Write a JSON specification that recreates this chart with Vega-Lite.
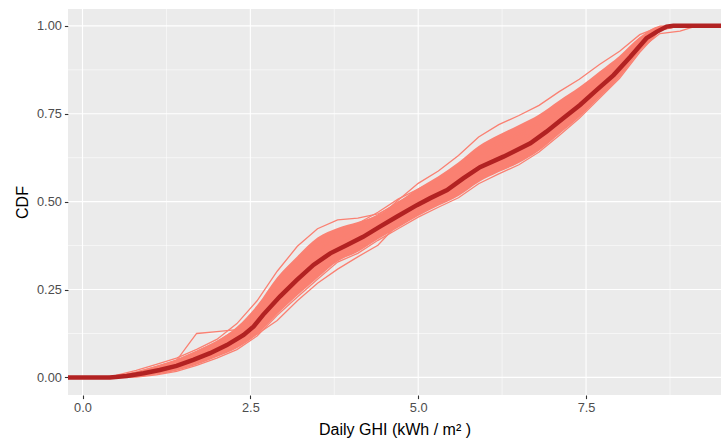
{
"$schema":"https://vega.github.io/schema/vega-lite/v6.json",
"width":653,"height":386,
"autosize":{"type":"none"},
"padding":{"left":68,"top":9,"right":0,"bottom":46},
"background":"white",
"config":{"view":{"fill":"#EBEBEB","stroke":null},"font":"Liberation Sans"},
"datasets":{
"gx":[{"v":0,"w":1.1},{"v":2.5,"w":1.1},{"v":5,"w":1.1},{"v":7.5,"w":1.1},{"v":1.25,"w":0.55},{"v":3.75,"w":0.55},{"v":6.25,"w":0.55},{"v":8.75,"w":0.55}],
"gy":[{"v":0,"w":1.1},{"v":0.25,"w":1.1},{"v":0.5,"w":1.1},{"v":0.75,"w":1.1},{"v":1,"w":1.1},{"v":0.125,"w":0.55},{"v":0.375,"w":0.55},{"v":0.625,"w":0.55},{"v":0.875,"w":0.55}],
"band":[{"x":0.3,"lo":0,"hi":0},{"x":0.5,"lo":0,"hi":0.005},{"x":0.8,"lo":0.001,"hi":0.017},{"x":1.1,"lo":0.008,"hi":0.033},{"x":1.4,"lo":0.019,"hi":0.051},{"x":1.7,"lo":0.036,"hi":0.076},{"x":2.0,"lo":0.058,"hi":0.104},{"x":2.3,"lo":0.083,"hi":0.144},{"x":2.6,"lo":0.122,"hi":0.205},{"x":2.9,"lo":0.18,"hi":0.285},{"x":3.2,"lo":0.233,"hi":0.345},{"x":3.5,"lo":0.283,"hi":0.398},{"x":3.8,"lo":0.33,"hi":0.425},{"x":4.1,"lo":0.357,"hi":0.442},{"x":4.4,"lo":0.393,"hi":0.462},{"x":4.7,"lo":0.426,"hi":0.499},{"x":5.0,"lo":0.459,"hi":0.538},{"x":5.3,"lo":0.488,"hi":0.572},{"x":5.6,"lo":0.516,"hi":0.612},{"x":5.9,"lo":0.555,"hi":0.658},{"x":6.2,"lo":0.584,"hi":0.69},{"x":6.5,"lo":0.61,"hi":0.718},{"x":6.8,"lo":0.645,"hi":0.748},{"x":7.1,"lo":0.692,"hi":0.788},{"x":7.4,"lo":0.74,"hi":0.826},{"x":7.7,"lo":0.796,"hi":0.87},{"x":8.0,"lo":0.853,"hi":0.915},{"x":8.3,"lo":0.927,"hi":0.968},{"x":8.6,"lo":0.987,"hi":0.999},{"x":8.9,"lo":1,"hi":1}],
"mean":[{"x":-0.3,"y":0},{"x":0.41,"y":0},{"x":0.66,"y":0.004},{"x":0.91,"y":0.012},{"x":1.15,"y":0.021},{"x":1.4,"y":0.033},{"x":1.65,"y":0.05},{"x":1.9,"y":0.069},{"x":2.15,"y":0.092},{"x":2.4,"y":0.121},{"x":2.55,"y":0.145},{"x":2.69,"y":0.178},{"x":2.94,"y":0.23},{"x":3.19,"y":0.277},{"x":3.44,"y":0.32},{"x":3.69,"y":0.353},{"x":3.94,"y":0.377},{"x":4.18,"y":0.4},{"x":4.43,"y":0.429},{"x":4.68,"y":0.457},{"x":4.98,"y":0.49},{"x":5.18,"y":0.51},{"x":5.43,"y":0.533},{"x":5.67,"y":0.566},{"x":5.92,"y":0.598},{"x":6.27,"y":0.628},{"x":6.67,"y":0.666},{"x":6.91,"y":0.699},{"x":7.16,"y":0.737},{"x":7.41,"y":0.775},{"x":7.66,"y":0.818},{"x":7.91,"y":0.86},{"x":8.16,"y":0.912},{"x":8.4,"y":0.965},{"x":8.55,"y":0.983},{"x":8.7,"y":0.998},{"x":8.8,"y":1},{"x":9.8,"y":1}],
"ens":[
{"s":1,"x":0.3,"y":0},{"s":1,"x":0.5,"y":0.004},{"s":1,"x":0.8,"y":0.015},{"s":1,"x":1.1,"y":0.031},{"s":1,"x":1.4,"y":0.049},{"s":1,"x":1.7,"y":0.074},{"s":1,"x":2.0,"y":0.101},{"s":1,"x":2.3,"y":0.137},{"s":1,"x":2.6,"y":0.194},{"s":1,"x":2.9,"y":0.272},{"s":1,"x":3.2,"y":0.322},{"s":1,"x":3.5,"y":0.378},{"s":1,"x":3.8,"y":0.408},{"s":1,"x":4.1,"y":0.434},{"s":1,"x":4.4,"y":0.462},{"s":1,"x":4.7,"y":0.499},{"s":1,"x":5.0,"y":0.528},{"s":1,"x":5.3,"y":0.56},{"s":1,"x":5.6,"y":0.597},{"s":1,"x":5.9,"y":0.637},{"s":1,"x":6.2,"y":0.664},{"s":1,"x":6.5,"y":0.695},{"s":1,"x":6.8,"y":0.727},{"s":1,"x":7.1,"y":0.769},{"s":1,"x":7.4,"y":0.809},{"s":1,"x":7.7,"y":0.857},{"s":1,"x":8.0,"y":0.905},{"s":1,"x":8.3,"y":0.965},{"s":1,"x":8.6,"y":0.999},{"s":1,"x":8.9,"y":1},
{"s":2,"x":0.3,"y":0},{"s":2,"x":0.5,"y":0},{"s":2,"x":0.8,"y":0.001},{"s":2,"x":1.1,"y":0.007},{"s":2,"x":1.4,"y":0.017},{"s":2,"x":1.7,"y":0.034},{"s":2,"x":2.0,"y":0.055},{"s":2,"x":2.3,"y":0.079},{"s":2,"x":2.6,"y":0.118},{"s":2,"x":2.9,"y":0.177},{"s":2,"x":3.2,"y":0.229},{"s":2,"x":3.5,"y":0.279},{"s":2,"x":3.8,"y":0.328},{"s":2,"x":4.1,"y":0.353},{"s":2,"x":4.4,"y":0.39},{"s":2,"x":4.7,"y":0.423},{"s":2,"x":5.0,"y":0.456},{"s":2,"x":5.3,"y":0.484},{"s":2,"x":5.6,"y":0.511},{"s":2,"x":5.9,"y":0.551},{"s":2,"x":6.2,"y":0.579},{"s":2,"x":6.5,"y":0.605},{"s":2,"x":6.8,"y":0.641},{"s":2,"x":7.1,"y":0.688},{"s":2,"x":7.4,"y":0.737},{"s":2,"x":7.7,"y":0.794},{"s":2,"x":8.0,"y":0.851},{"s":2,"x":8.3,"y":0.925},{"s":2,"x":8.6,"y":0.987},{"s":2,"x":8.9,"y":1},
{"s":3,"x":0.3,"y":0},{"s":3,"x":0.5,"y":0.003},{"s":3,"x":0.8,"y":0.012},{"s":3,"x":1.1,"y":0.025},{"s":3,"x":1.4,"y":0.041},{"s":3,"x":1.7,"y":0.063},{"s":3,"x":2.0,"y":0.087},{"s":3,"x":2.3,"y":0.118},{"s":3,"x":2.6,"y":0.169},{"s":3,"x":2.9,"y":0.234},{"s":3,"x":3.2,"y":0.306},{"s":3,"x":3.5,"y":0.336},{"s":3,"x":3.8,"y":0.368},{"s":3,"x":4.1,"y":0.396},{"s":3,"x":4.4,"y":0.427},{"s":3,"x":4.7,"y":0.458},{"s":3,"x":5.0,"y":0.49},{"s":3,"x":5.3,"y":0.518},{"s":3,"x":5.6,"y":0.55},{"s":3,"x":5.9,"y":0.585},{"s":3,"x":6.2,"y":0.613},{"s":3,"x":6.5,"y":0.62},{"s":3,"x":6.8,"y":0.669},{"s":3,"x":7.1,"y":0.712},{"s":3,"x":7.4,"y":0.757},{"s":3,"x":7.7,"y":0.81},{"s":3,"x":8.0,"y":0.864},{"s":3,"x":8.3,"y":0.934},{"s":3,"x":8.6,"y":0.989},{"s":3,"x":8.9,"y":1},
{"s":4,"x":0.3,"y":0},{"s":4,"x":0.5,"y":0},{"s":4,"x":0.8,"y":0.004},{"s":4,"x":1.1,"y":0.013},{"s":4,"x":1.4,"y":0.025},{"s":4,"x":1.7,"y":0.046},{"s":4,"x":2.0,"y":0.069},{"s":4,"x":2.3,"y":0.099},{"s":4,"x":2.6,"y":0.148},{"s":4,"x":2.9,"y":0.192},{"s":4,"x":3.2,"y":0.27},{"s":4,"x":3.5,"y":0.322},{"s":4,"x":3.8,"y":0.36},{"s":4,"x":4.1,"y":0.392},{"s":4,"x":4.4,"y":0.427},{"s":4,"x":4.7,"y":0.462},{"s":4,"x":5.0,"y":0.512},{"s":4,"x":5.3,"y":0.529},{"s":4,"x":5.6,"y":0.565},{"s":4,"x":5.9,"y":0.606},{"s":4,"x":6.2,"y":0.639},{"s":4,"x":6.5,"y":0.667},{"s":4,"x":6.8,"y":0.703},{"s":4,"x":7.1,"y":0.747},{"s":4,"x":7.4,"y":0.792},{"s":4,"x":7.7,"y":0.843},{"s":4,"x":8.0,"y":0.895},{"s":4,"x":8.3,"y":0.958},{"s":4,"x":8.6,"y":0.998},{"s":4,"x":8.9,"y":1},
{"s":5,"x":0.3,"y":0},{"s":5,"x":0.5,"y":0.002},{"s":5,"x":0.8,"y":0.01},{"s":5,"x":1.1,"y":0.023},{"s":5,"x":1.4,"y":0.038},{"s":5,"x":1.7,"y":0.061},{"s":5,"x":2.0,"y":0.094},{"s":5,"x":2.3,"y":0.118},{"s":5,"x":2.6,"y":0.17},{"s":5,"x":2.9,"y":0.237},{"s":5,"x":3.2,"y":0.295},{"s":5,"x":3.5,"y":0.317},{"s":5,"x":3.8,"y":0.378},{"s":5,"x":4.1,"y":0.407},{"s":5,"x":4.4,"y":0.45},{"s":5,"x":4.7,"y":0.471},{"s":5,"x":5.0,"y":0.504},{"s":5,"x":5.3,"y":0.535},{"s":5,"x":5.6,"y":0.57},{"s":5,"x":5.9,"y":0.594},{"s":5,"x":6.2,"y":0.639},{"s":5,"x":6.5,"y":0.665},{"s":5,"x":6.8,"y":0.698},{"s":5,"x":7.1,"y":0.755},{"s":5,"x":7.4,"y":0.785},{"s":5,"x":7.7,"y":0.836},{"s":5,"x":8.0,"y":0.887},{"s":5,"x":8.3,"y":0.952},{"s":5,"x":8.6,"y":0.995},{"s":5,"x":8.9,"y":1},
{"s":6,"x":0.3,"y":0},{"s":6,"x":0.5,"y":0},{"s":6,"x":0.8,"y":0.006},{"s":6,"x":1.1,"y":0.015},{"s":6,"x":1.4,"y":0.028},{"s":6,"x":1.7,"y":0.041},{"s":6,"x":2.0,"y":0.07},{"s":6,"x":2.3,"y":0.098},{"s":6,"x":2.6,"y":0.146},{"s":6,"x":2.9,"y":0.232},{"s":6,"x":3.2,"y":0.262},{"s":6,"x":3.5,"y":0.312},{"s":6,"x":3.8,"y":0.348},{"s":6,"x":4.1,"y":0.366},{"s":6,"x":4.4,"y":0.414},{"s":6,"x":4.7,"y":0.447},{"s":6,"x":5.0,"y":0.48},{"s":6,"x":5.3,"y":0.522},{"s":6,"x":5.6,"y":0.543},{"s":6,"x":5.9,"y":0.58},{"s":6,"x":6.2,"y":0.609},{"s":6,"x":6.5,"y":0.635},{"s":6,"x":6.8,"y":0.65},{"s":6,"x":7.1,"y":0.715},{"s":6,"x":7.4,"y":0.761},{"s":6,"x":7.7,"y":0.815},{"s":6,"x":8.0,"y":0.86},{"s":6,"x":8.3,"y":0.938},{"s":6,"x":8.6,"y":0.991},{"s":6,"x":8.9,"y":1},
{"s":7,"x":0.3,"y":0},{"s":7,"x":0.5,"y":0.001},{"s":7,"x":0.8,"y":0.01},{"s":7,"x":1.1,"y":0.023},{"s":7,"x":1.4,"y":0.04},{"s":7,"x":1.7,"y":0.065},{"s":7,"x":2.0,"y":0.094},{"s":7,"x":2.3,"y":0.13},{"s":7,"x":2.6,"y":0.19},{"s":7,"x":2.9,"y":0.267},{"s":7,"x":3.2,"y":0.333},{"s":7,"x":3.5,"y":0.389},{"s":7,"x":3.8,"y":0.418},{"s":7,"x":4.1,"y":0.438},{"s":7,"x":4.4,"y":0.47},{"s":7,"x":4.7,"y":0.507},{"s":7,"x":5.0,"y":0.536},{"s":7,"x":5.3,"y":0.564},{"s":7,"x":5.6,"y":0.601},{"s":7,"x":5.9,"y":0.647},{"s":7,"x":6.2,"y":0.674},{"s":7,"x":6.5,"y":0.695},{"s":7,"x":6.8,"y":0.722},{"s":7,"x":7.1,"y":0.76},{"s":7,"x":7.4,"y":0.797},{"s":7,"x":7.7,"y":0.843},{"s":7,"x":8.0,"y":0.89},{"s":7,"x":8.3,"y":0.952},{"s":7,"x":8.6,"y":0.994},{"s":7,"x":8.9,"y":1},
{"s":8,"x":0.3,"y":0},{"s":8,"x":0.5,"y":0.006},{"s":8,"x":0.8,"y":0.02},{"s":8,"x":1.1,"y":0.037},{"s":8,"x":1.4,"y":0.055},{"s":8,"x":1.7,"y":0.08},{"s":8,"x":2.0,"y":0.108},{"s":8,"x":2.3,"y":0.153},{"s":8,"x":2.6,"y":0.218},{"s":8,"x":2.9,"y":0.302},{"s":8,"x":3.2,"y":0.373},{"s":8,"x":3.5,"y":0.423},{"s":8,"x":3.8,"y":0.448},{"s":8,"x":4.1,"y":0.453},{"s":8,"x":4.4,"y":0.465},{"s":8,"x":4.7,"y":0.495},{"s":8,"x":5.0,"y":0.528},{"s":8,"x":5.3,"y":0.555},{"s":8,"x":5.6,"y":0.586},{"s":8,"x":5.9,"y":0.63},{"s":8,"x":6.2,"y":0.662},{"s":8,"x":6.5,"y":0.688},{"s":8,"x":6.8,"y":0.72},{"s":8,"x":7.1,"y":0.762},{"s":8,"x":7.4,"y":0.803},{"s":8,"x":7.7,"y":0.851},{"s":8,"x":8.0,"y":0.898},{"s":8,"x":8.3,"y":0.957},{"s":8,"x":8.6,"y":0.996},{"s":8,"x":8.9,"y":1},
{"s":9,"x":0.3,"y":0},{"s":9,"x":0.5,"y":0.003},{"s":9,"x":0.8,"y":0.013},{"s":9,"x":1.1,"y":0.026},{"s":9,"x":1.4,"y":0.042},{"s":9,"x":1.7,"y":0.064},{"s":9,"x":2.0,"y":0.09},{"s":9,"x":2.3,"y":0.126},{"s":9,"x":2.6,"y":0.182},{"s":9,"x":2.9,"y":0.254},{"s":9,"x":3.2,"y":0.316},{"s":9,"x":3.5,"y":0.366},{"s":9,"x":3.8,"y":0.397},{"s":9,"x":4.1,"y":0.423},{"s":9,"x":4.4,"y":0.452},{"s":9,"x":4.7,"y":0.504},{"s":9,"x":5.0,"y":0.552},{"s":9,"x":5.3,"y":0.587},{"s":9,"x":5.6,"y":0.631},{"s":9,"x":5.9,"y":0.684},{"s":9,"x":6.2,"y":0.719},{"s":9,"x":6.5,"y":0.745},{"s":9,"x":6.8,"y":0.774},{"s":9,"x":7.1,"y":0.813},{"s":9,"x":7.4,"y":0.848},{"s":9,"x":7.7,"y":0.89},{"s":9,"x":8.0,"y":0.928},{"s":9,"x":8.3,"y":0.975},{"s":9,"x":8.6,"y":0.998},{"s":9,"x":8.9,"y":1},
{"s":10,"x":0.3,"y":0},{"s":10,"x":0.5,"y":0},{"s":10,"x":0.8,"y":0.005},{"s":10,"x":1.1,"y":0.014},{"s":10,"x":1.4,"y":0.026},{"s":10,"x":1.7,"y":0.045},{"s":10,"x":2.0,"y":0.067},{"s":10,"x":2.3,"y":0.094},{"s":10,"x":2.6,"y":0.123},{"s":10,"x":2.9,"y":0.162},{"s":10,"x":3.2,"y":0.218},{"s":10,"x":3.5,"y":0.268},{"s":10,"x":3.8,"y":0.308},{"s":10,"x":4.1,"y":0.343},{"s":10,"x":4.4,"y":0.376},{"s":10,"x":4.7,"y":0.437},{"s":10,"x":5.0,"y":0.472},{"s":10,"x":5.3,"y":0.502},{"s":10,"x":5.6,"y":0.536},{"s":10,"x":5.9,"y":0.574},{"s":10,"x":6.2,"y":0.604},{"s":10,"x":6.5,"y":0.63},{"s":10,"x":6.8,"y":0.666},{"s":10,"x":7.1,"y":0.71},{"s":10,"x":7.4,"y":0.755},{"s":10,"x":7.7,"y":0.81},{"s":10,"x":8.0,"y":0.863},{"s":10,"x":8.3,"y":0.933},{"s":10,"x":8.6,"y":0.978},{"s":10,"x":8.9,"y":0.985},{"s":10,"x":9.15,"y":1},
{"s":11,"x":0.3,"y":0},{"s":11,"x":0.5,"y":0.002},{"s":11,"x":0.8,"y":0.011},{"s":11,"x":1.1,"y":0.026},{"s":11,"x":1.4,"y":0.048},{"s":11,"x":1.6,"y":0.1},{"s":11,"x":1.7,"y":0.125},{"s":11,"x":2.0,"y":0.13},{"s":11,"x":2.3,"y":0.136},{"s":11,"x":2.6,"y":0.175},{"s":11,"x":2.9,"y":0.24},{"s":11,"x":3.2,"y":0.3},{"s":11,"x":3.5,"y":0.345},{"s":11,"x":3.8,"y":0.378},{"s":11,"x":4.1,"y":0.405},{"s":11,"x":4.4,"y":0.437},{"s":11,"x":4.7,"y":0.468},{"s":11,"x":5.0,"y":0.5},{"s":11,"x":5.3,"y":0.532},{"s":11,"x":5.6,"y":0.568},{"s":11,"x":5.9,"y":0.61},{"s":11,"x":6.2,"y":0.645},{"s":11,"x":6.5,"y":0.672},{"s":11,"x":6.8,"y":0.705},{"s":11,"x":7.1,"y":0.748},{"s":11,"x":7.4,"y":0.79},{"s":11,"x":7.7,"y":0.84},{"s":11,"x":8.0,"y":0.89},{"s":11,"x":8.3,"y":0.955},{"s":11,"x":8.6,"y":0.996},{"s":11,"x":8.9,"y":1},
{"s":12,"x":0.3,"y":0},{"s":12,"x":0.5,"y":0.001},{"s":12,"x":0.8,"y":0.007},{"s":12,"x":1.1,"y":0.02},{"s":12,"x":1.4,"y":0.031},{"s":12,"x":1.7,"y":0.056},{"s":12,"x":2.0,"y":0.076},{"s":12,"x":2.3,"y":0.11},{"s":12,"x":2.6,"y":0.155},{"s":12,"x":2.9,"y":0.225},{"s":12,"x":3.2,"y":0.275},{"s":12,"x":3.5,"y":0.332},{"s":12,"x":3.8,"y":0.36},{"s":12,"x":4.1,"y":0.396},{"s":12,"x":4.4,"y":0.422},{"s":12,"x":4.7,"y":0.462},{"s":12,"x":5.0,"y":0.489},{"s":12,"x":5.3,"y":0.525},{"s":12,"x":5.6,"y":0.552},{"s":12,"x":5.9,"y":0.598},{"s":12,"x":6.2,"y":0.62},{"s":12,"x":6.5,"y":0.655},{"s":12,"x":6.8,"y":0.68},{"s":12,"x":7.1,"y":0.733},{"s":12,"x":7.4,"y":0.77},{"s":12,"x":7.7,"y":0.828},{"s":12,"x":8.0,"y":0.875},{"s":12,"x":8.3,"y":0.948},{"s":12,"x":8.6,"y":0.993},{"s":12,"x":8.9,"y":1},
{"s":13,"x":0.3,"y":0},{"s":13,"x":0.5,"y":0.003},{"s":13,"x":0.8,"y":0.013},{"s":13,"x":1.1,"y":0.027},{"s":13,"x":1.4,"y":0.044},{"s":13,"x":1.7,"y":0.067},{"s":13,"x":2.0,"y":0.094},{"s":13,"x":2.3,"y":0.127},{"s":13,"x":2.6,"y":0.182},{"s":13,"x":2.9,"y":0.252},{"s":13,"x":3.2,"y":0.3},{"s":13,"x":3.5,"y":0.361},{"s":13,"x":3.8,"y":0.393},{"s":13,"x":4.1,"y":0.42},{"s":13,"x":4.4,"y":0.45},{"s":13,"x":4.7,"y":0.483},{"s":13,"x":5.0,"y":0.516},{"s":13,"x":5.3,"y":0.547},{"s":13,"x":5.6,"y":0.583},{"s":13,"x":5.9,"y":0.63},{"s":13,"x":6.2,"y":0.654},{"s":13,"x":6.5,"y":0.68},{"s":13,"x":6.8,"y":0.705},{"s":13,"x":7.1,"y":0.755},{"s":13,"x":7.4,"y":0.797},{"s":13,"x":7.7,"y":0.846},{"s":13,"x":8.0,"y":0.896},{"s":13,"x":8.3,"y":0.958},{"s":13,"x":8.6,"y":0.997},{"s":13,"x":8.9,"y":1},
{"s":14,"x":0.3,"y":0},{"s":14,"x":0.5,"y":0},{"s":14,"x":0.8,"y":0.003},{"s":14,"x":1.1,"y":0.011},{"s":14,"x":1.4,"y":0.022},{"s":14,"x":1.7,"y":0.041},{"s":14,"x":2.0,"y":0.062},{"s":14,"x":2.3,"y":0.089},{"s":14,"x":2.6,"y":0.134},{"s":14,"x":2.9,"y":0.192},{"s":14,"x":3.2,"y":0.245},{"s":14,"x":3.5,"y":0.295},{"s":14,"x":3.8,"y":0.34},{"s":14,"x":4.1,"y":0.366},{"s":14,"x":4.4,"y":0.402},{"s":14,"x":4.7,"y":0.435},{"s":14,"x":5.0,"y":0.468},{"s":14,"x":5.3,"y":0.505},{"s":14,"x":5.6,"y":0.529},{"s":14,"x":5.9,"y":0.565},{"s":14,"x":6.2,"y":0.594},{"s":14,"x":6.5,"y":0.62},{"s":14,"x":6.8,"y":0.655},{"s":14,"x":7.1,"y":0.701},{"s":14,"x":7.4,"y":0.749},{"s":14,"x":7.7,"y":0.8},{"s":14,"x":8.0,"y":0.86},{"s":14,"x":8.3,"y":0.932},{"s":14,"x":8.6,"y":0.989},{"s":14,"x":8.9,"y":1}
]
},
"layer":[
{"data":{"name":"gx"},"mark":{"type":"rule","color":"white"},
 "encoding":{"x":{"field":"v","type":"quantitative","scale":{"domain":[-0.216,9.51],"nice":false,"zero":false}},"strokeWidth":{"field":"w","type":"quantitative","scale":null}}},
{"data":{"name":"gy"},"mark":{"type":"rule","color":"white"},
 "encoding":{"y":{"field":"v","type":"quantitative","scale":{"domain":[-0.05,1.048],"nice":false,"zero":false}},"strokeWidth":{"field":"w","type":"quantitative","scale":null}}},
{"data":{"name":"band"},"mark":{"type":"area","color":"#FA8072","opacity":1,"clip":true,"interpolate":"monotone"},
 "encoding":{"x":{"field":"x","type":"quantitative"},"y":{"field":"lo","type":"quantitative"},"y2":{"field":"hi"}}},
{"data":{"name":"ens"},"mark":{"type":"line","color":"#FA8072","strokeWidth":1.3,"clip":true},
 "encoding":{"x":{"field":"x","type":"quantitative"},"y":{"field":"y","type":"quantitative"},"detail":{"field":"s","type":"nominal"},"order":{"field":"x","type":"quantitative"}}},
{"data":{"name":"mean"},"mark":{"type":"line","color":"#B22222","strokeWidth":4.5,"clip":true},
 "encoding":{
  "x":{"field":"x","type":"quantitative","axis":{"title":"Daily GHI (kWh / m² )","values":[0,2.5,5,7.5],"format":".1f","grid":false,"domain":false,"tickColor":"#333333","tickSize":3.6,"tickWidth":1.1,"labelColor":"#4D4D4D","labelFontSize":12.8,"labelPadding":3,"titleFontSize":16,"titleFontWeight":"normal","titleColor":"black","titlePadding":7}},
  "y":{"field":"y","type":"quantitative","axis":{"title":"CDF","values":[0,0.25,0.5,0.75,1],"format":".2f","grid":false,"domain":false,"tickColor":"#333333","tickSize":3.6,"tickWidth":1.1,"labelColor":"#4D4D4D","labelFontSize":12.8,"labelPadding":3,"titleFontSize":16,"titleFontWeight":"normal","titleColor":"black","titlePadding":6}},
  "order":{"field":"x","type":"quantitative"}}}
]
}
